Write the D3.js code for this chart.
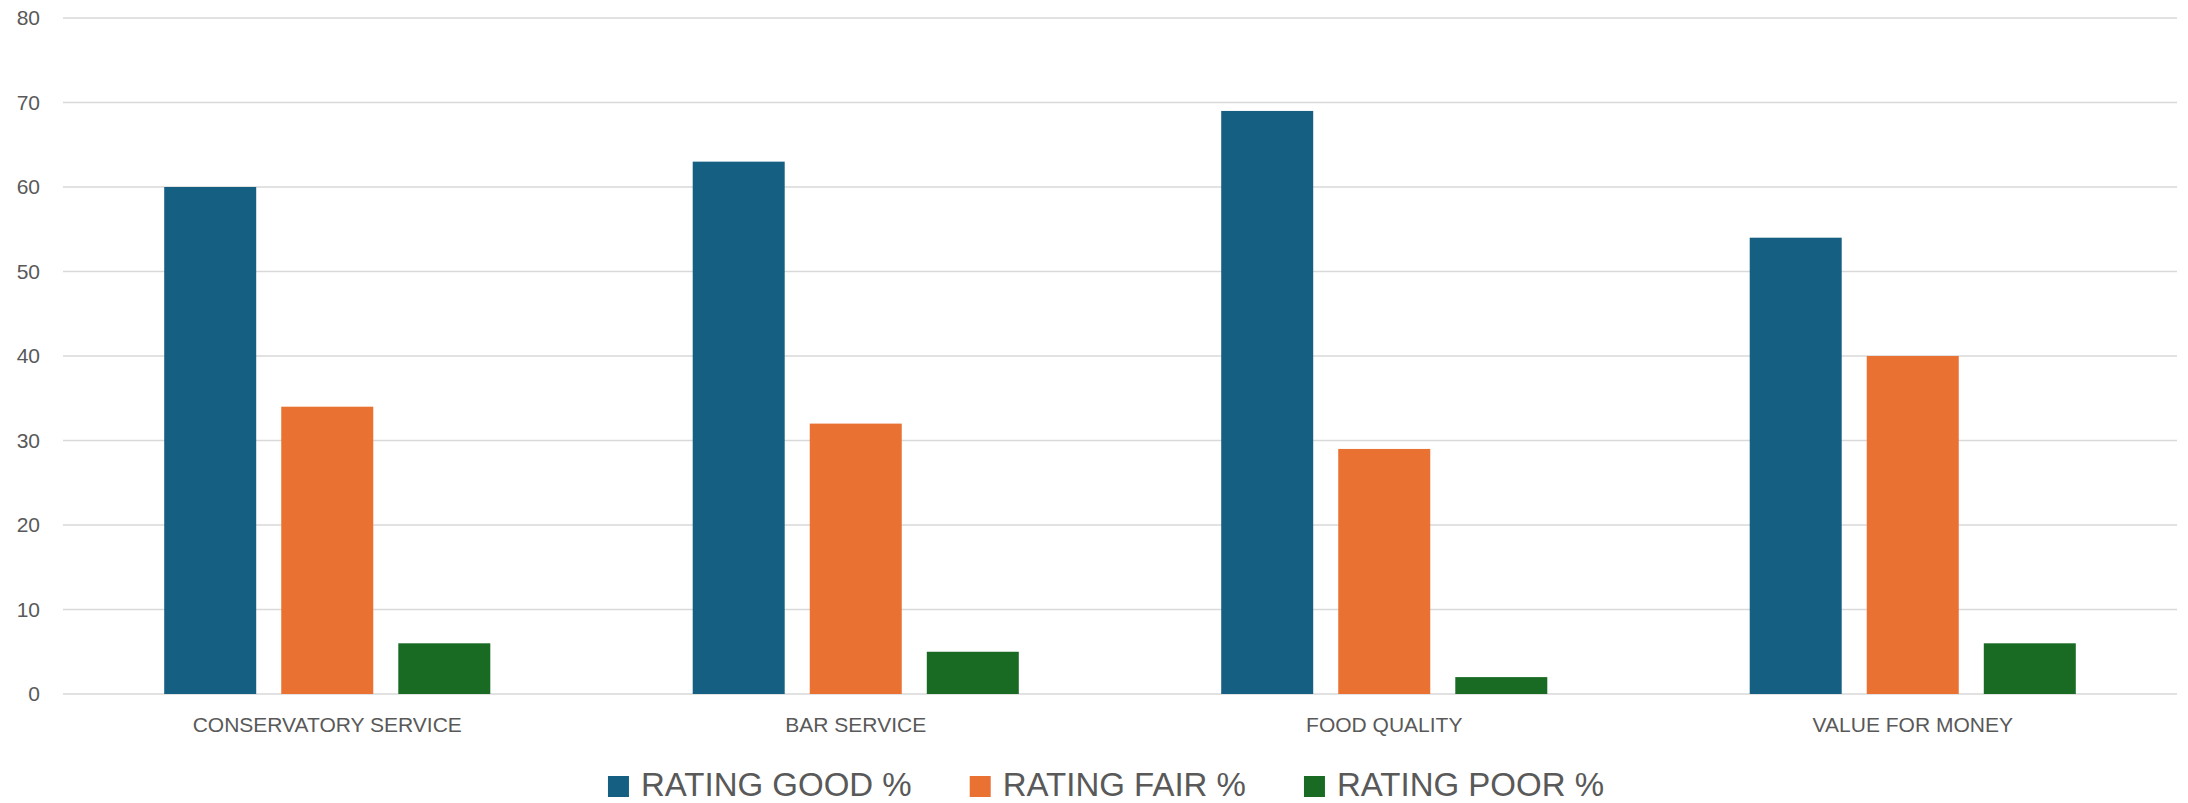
<!DOCTYPE html>
<html>
<head>
<meta charset="utf-8">
<script src="https://cdn.jsdelivr.net/npm/d3@7"></script>
<style>
  html, body { margin: 0; padding: 0; background: #fff; }
  svg { display: block; font-family: "Liberation Sans", Arial, sans-serif; }
</style>
</head>
<body>
<script>
// chart data
var categories = ["CONSERVATORY SERVICE", "BAR SERVICE", "FOOD QUALITY", "VALUE FOR MONEY"];
var seriesNames = ["RATING GOOD %", "RATING FAIR %", "RATING POOR %"];
var good = [60, 63, 69, 54];
var fair = [34, 32, 29, 40];
var poor = [6, 5, 2, 6];
var yTicks = [0, 10, 20, 30, 40, 50, 60, 70, 80];
var colors = ["#156082", "#E97132", "#196B24"];

var W = 2188, H = 803;
var plotL = 63, plotR = 2177, plotT = 18, plotB = 694;   // plot box

var values = [good, fair, poor];
var rows = categories.map(function(c, i){
  return { cat: c, vals: seriesNames.map(function(s, j){ return { key: s, v: values[j][i] }; }) };
});

var svg = d3.select("body").append("svg")
  .attr("width", W)
  .attr("height", H);

var y = d3.scaleLinear().domain([0, 80]).range([plotB, plotT]);

var x0 = d3.scaleBand()
  .domain(categories)
  .range([plotL, plotR])
  .paddingInner(0.383)
  .paddingOuter(0.1915);

var x1 = d3.scaleBand()
  .domain(seriesNames)
  .range([0, x0.bandwidth()])
  .paddingInner(0.214);

var color = d3.scaleOrdinal().domain(seriesNames).range(colors);

// gridlines
svg.append("g")
  .selectAll("line")
  .data(yTicks)
  .enter().append("line")
    .attr("x1", plotL)
    .attr("x2", plotR)
    .attr("y1", function(d){ return y(d); })
    .attr("y2", function(d){ return y(d); })
    .attr("stroke", "#d9d9d9")
    .attr("stroke-width", 1.6);

// y axis labels
var yAxis = svg.append("g")
  .attr("transform", "translate(" + plotL + ",0)")
  .call(d3.axisLeft(y).tickValues(yTicks).tickSize(0).tickPadding(23));
yAxis.select(".domain").remove();
yAxis.selectAll("text")
  .attr("fill", "#595959")
  .style("font-size", "21px")
  .style("font-family", "'Liberation Sans', Arial, sans-serif");

// bars
svg.append("g")
  .selectAll("g")
  .data(rows)
  .enter().append("g")
    .attr("transform", function(d){ return "translate(" + x0(d.cat) + ",0)"; })
  .selectAll("rect")
  .data(function(d){ return d.vals; })
  .enter().append("rect")
    .attr("x", function(d){ return x1(d.key); })
    .attr("y", function(d){ return y(d.v); })
    .attr("width", x1.bandwidth())
    .attr("height", function(d){ return y(0) - y(d.v); })
    .attr("fill", function(d){ return color(d.key); });

// x axis labels
var xAxis = svg.append("g")
  .attr("transform", "translate(0," + plotB + ")")
  .call(d3.axisBottom(x0).tickSize(0).tickPadding(23));
xAxis.select(".domain").remove();
xAxis.selectAll("text")
  .attr("fill", "#595959")
  .style("font-size", "21px")
  .style("font-family", "'Liberation Sans', Arial, sans-serif");

// legend
var legend = svg.append("g");
var items = legend.selectAll("g")
  .data(seriesNames)
  .enter().append("g");

items.append("rect")
  .attr("width", 21)
  .attr("height", 21)
  .attr("y", 776)
  .attr("fill", function(d){ return color(d); });

items.append("text")
  .attr("x", 33)
  .attr("y", 796)
  .attr("fill", "#595959")
  .style("font-size", "33px")
  .text(function(d){ return d; });

var xpos = 0;
items.each(function(){
  var g = d3.select(this);
  var w = 33 + g.select("text").node().getComputedTextLength();
  g.attr("transform", "translate(" + xpos + ",0)");
  xpos += w + 58;
});
var totalW = xpos - 58;
legend.attr("transform", "translate(" + (1106 - totalW / 2) + ",0)");
</script>
</body>
</html>
